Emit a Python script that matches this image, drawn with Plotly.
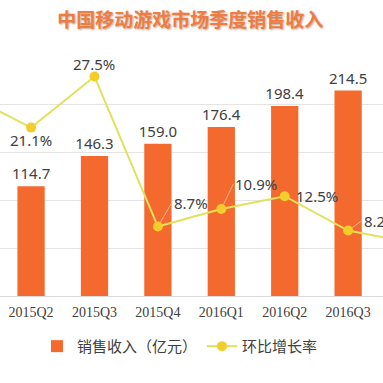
import plotly.graph_objects as go

categories = ["2015Q1", "2015Q2", "2015Q3", "2015Q4", "2016Q1", "2016Q2", "2016Q3", "2016Q4"]
revenue = [94.7, 114.7, 146.3, 159.0, 176.4, 198.4, 214.5, 228.9]
growth = [25.2, 21.1, 27.5, 8.7, 10.9, 12.5, 8.2, 6.7]
y_ticks = [0, 50, 100, 150, 200, 250]

# label placement per point: (mode, ax, ay)
label_pos = [
    ("above", 0, 0),
    ("below", 0, 0),
    ("above", 0, 0),
    ("arrow", 14, -24),
    ("arrow", 12, -25),
    ("right", 0, 0),
    ("arrow", 14, -10),
    ("arrow", 14, -10),
]

bar_color = "#f46a2e"
line_color = "#dfe25c"
marker_color = "#f2cd2c"
text_color = "#404040"
label_font = dict(family="Noto Sans, Noto Sans CJK SC", size=15, color=text_color)

fig = go.Figure()
fig.add_trace(go.Bar(
    x=list(range(len(categories))), y=revenue, name="销售收入（亿元）",
    marker=dict(color=bar_color, line=dict(width=0)), width=0.43,
    text=[f"{v:.1f}" for v in revenue], textposition="outside",
    textfont=label_font, constraintext="none",
    cliponaxis=True,
))
fig.add_trace(go.Scatter(
    x=list(range(len(categories))), y=growth, name="环比增长率", yaxis="y2",
    mode="lines+markers",
    line=dict(color=line_color, width=2),
    marker=dict(color=marker_color, size=10),
))

for i, g in enumerate(growth):
    mode, ax, ay = label_pos[i]
    if mode == "arrow":
        fig.add_annotation(
            x=i, y=g, xref="x", yref="y2", text=f"{g}%",
            showarrow=True, arrowhead=0, arrowwidth=1, arrowcolor="#f2b28e",
            ax=ax, ay=ay, xanchor="left", yanchor="middle", standoff=5,
            font=label_font,
        )
    elif mode == "right":
        fig.add_annotation(
            x=i, y=g, xref="x", yref="y2", text=f"{g}%", showarrow=False,
            xshift=9, xanchor="left", yanchor="middle", font=label_font,
        )
    elif mode == "above":
        fig.add_annotation(
            x=i, y=g, xref="x", yref="y2", text=f"{g}%", showarrow=False,
            yshift=1, yanchor="bottom", font=label_font,
        )
    else:
        fig.add_annotation(
            x=i, y=g, xref="x", yref="y2", text=f"{g}%", showarrow=False,
            yshift=0, yanchor="top", font=label_font,
        )

fig.update_layout(
    width=383, height=383,
    margin=dict(l=0, r=0, t=56, b=87, autoexpand=False),
    paper_bgcolor="white", plot_bgcolor="white",
    title=dict(text="<b>中国移动游戏市场季度销售收入</b>", x=0.497, xanchor="center",
               y=0.948, yanchor="middle",
               font=dict(family="Noto Sans CJK SC", size=19, color="#ee7c43",
                         shadow="1px 1px 2px rgba(120,60,20,0.45)")),
    xaxis=dict(range=[0.51, 6.55], tickmode="array",
               tickvals=list(range(len(categories))), ticktext=categories,
               tickfont=dict(family="Liberation Serif", size=14, color=text_color),
               showgrid=False, zeroline=False, showline=True, linecolor="#d9d9d9",
               ticks="", ticklabelstandoff=3, automargin=False),
    yaxis=dict(range=[0, 250.6], tickvals=y_ticks, showticklabels=False,
               showgrid=True, gridcolor="#e4e4e4", gridwidth=1, zeroline=False,
               automargin=False),
    yaxis2=dict(range=[0, 30.072], overlaying="y", side="right", showticklabels=False,
                showgrid=False, zeroline=False, automargin=False),
    legend=dict(orientation="h", x=0.47, xanchor="center", y=-0.21, yanchor="middle",
                font=dict(family="Noto Sans CJK SC", size=15, color=text_color),
                itemwidth=30, traceorder="normal"),
    showlegend=True,
)

fig.write_html("out.html", config={"displayModeBar": False},
               post_script="document.body.style.margin='0';document.body.style.overflow='hidden';")
